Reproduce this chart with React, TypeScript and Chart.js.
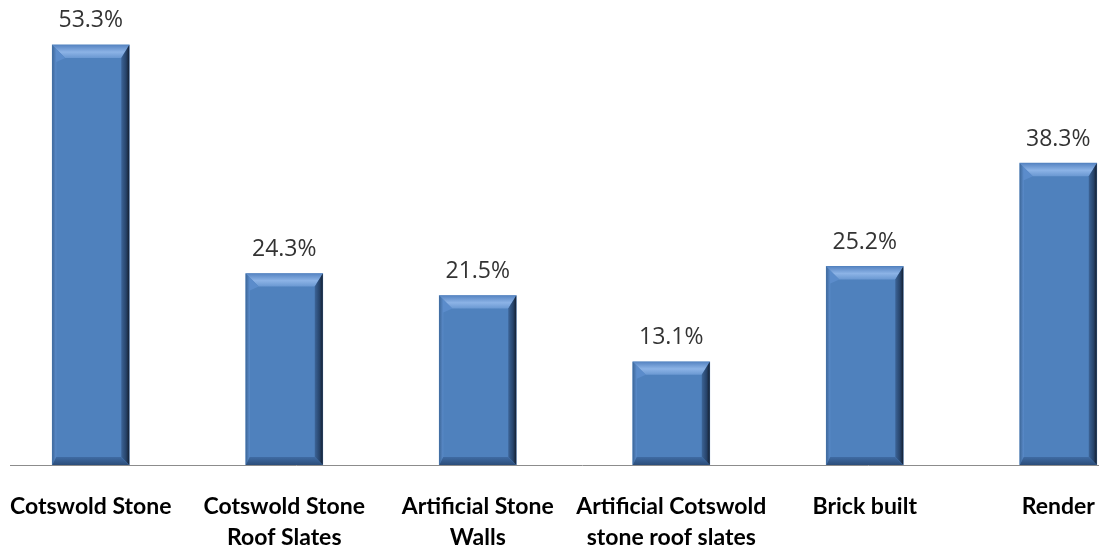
import React, { useEffect, useRef } from "react";
import { Chart, registerables } from "chart.js";

Chart.register(...registerables);

const categories: string[][] = [
  ["Cotswold Stone"],
  ["Cotswold Stone", "Roof Slates"],
  ["Artificial Stone", "Walls"],
  ["Artificial Cotswold", "stone roof slates"],
  ["Brick built"],
  ["Render"],
];
const values: number[] = [53.3, 24.3, 21.5, 13.1, 25.2, 38.3];
const valueLabels: string[] = values.map((v) => v.toFixed(1) + "%");

const bevelPlugin = {
  id: "bevel",
  afterDatasetsDraw(chart: any) {
    const ctx = chart.ctx;
    const meta = chart.getDatasetMeta(0);
    meta.data.forEach((bar: any) => {
      const { x, y, width, base } = bar.getProps(["x", "y", "width", "base"], true);
      const L = x - width / 2;
      const R = x + width / 2;
      const T = y;
      const B = base;
      const bt = 13;
      const br = 8;
      const bl = 4;
      const bb = 8;
      ctx.save();
      // top bevel
      let g = ctx.createLinearGradient(0, T, 0, T + bt);
      g.addColorStop(0, "#5684c2");
      g.addColorStop(0.55, "#8cb3e6");
      g.addColorStop(1, "#6a98d2");
      ctx.fillStyle = g;
      ctx.beginPath();
      ctx.moveTo(L, T);
      ctx.lineTo(R, T);
      ctx.lineTo(R - br, T + bt);
      ctx.lineTo(L + bl + 9, T + bt);
      ctx.closePath();
      ctx.fill();
      // left bevel
      g = ctx.createLinearGradient(L, 0, L + bl, 0);
      g.addColorStop(0, "#3d6799");
      g.addColorStop(1, "#5b8ccb");
      ctx.fillStyle = g;
      ctx.beginPath();
      ctx.moveTo(L, T);
      ctx.lineTo(L + bl + 9, T + bt);
      ctx.lineTo(L + bl, T + bt + 4);
      ctx.lineTo(L + bl, B - bb);
      ctx.lineTo(L, B);
      ctx.closePath();
      ctx.fill();
      // right bevel
      g = ctx.createLinearGradient(R - br, 0, R, 0);
      g.addColorStop(0, "#3c6497");
      g.addColorStop(0.6, "#27446b");
      g.addColorStop(1, "#141f30");
      ctx.fillStyle = g;
      ctx.beginPath();
      ctx.moveTo(R, T);
      ctx.lineTo(R, B);
      ctx.lineTo(R - br, B - bb);
      ctx.lineTo(R - br, T + bt);
      ctx.closePath();
      ctx.fill();
      // bottom bevel
      g = ctx.createLinearGradient(0, B - bb, 0, B);
      g.addColorStop(0, "#3f6ba3");
      g.addColorStop(1, "#2b4d7a");
      ctx.fillStyle = g;
      ctx.beginPath();
      ctx.moveTo(L, B);
      ctx.lineTo(R, B);
      ctx.lineTo(R - br, B - bb);
      ctx.lineTo(L + bl, B - bb);
      ctx.closePath();
      ctx.fill();
      ctx.restore();
    });
  },
};

const labelsPlugin = {
  id: "valueLabels",
  afterDatasetsDraw(chart: any) {
    const ctx = chart.ctx;
    const meta = chart.getDatasetMeta(0);
    ctx.save();
    ctx.font = "23px 'Open Sans'";
    ctx.fillStyle = "#333333";
    ctx.textAlign = "center";
    ctx.textBaseline = "middle";
    meta.data.forEach((bar: any, i: number) => {
      ctx.fillText(valueLabels[i], bar.x, bar.y - 24);
    });
    ctx.restore();
  },
};

const axisLinePlugin = {
  id: "axisLine",
  afterDatasetsDraw(chart: any) {
    const ctx = chart.ctx;
    const y = chart.scales.y.getPixelForValue(0);
    ctx.save();
    ctx.strokeStyle = "#8c8c8c";
    ctx.lineWidth = 1;
    ctx.beginPath();
    ctx.moveTo(chart.chartArea.left + 16, y + 0.5);
    ctx.lineTo(chart.chartArea.right, y + 0.5);
    ctx.stroke();
    ctx.restore();
  },
};

export default function App() {
  const ref = useRef<HTMLCanvasElement>(null);
  useEffect(() => {
    if (!ref.current) return;
    const chart = new Chart(ref.current, {
      type: "bar",
      data: {
        labels: categories,
        datasets: [
          {
            data: values,
            backgroundColor: "#4f81bd",
            borderWidth: 0,
            barThickness: 77,
          },
        ],
      },
      options: {
        responsive: false,
        animation: false,
        layout: { padding: 0 },
        plugins: {
          legend: { display: false },
          tooltip: { enabled: false },
        },
        scales: {
          x: {
            grid: { display: false, drawTicks: false },
            border: { display: false },
            ticks: {
              color: "#000000",
              font: { family: "Lato, 'DejaVu Sans', sans-serif", size: 23, weight: "bold", lineHeight: 1.35 },
              padding: 26,
              maxRotation: 0,
              minRotation: 0,
              autoSkip: false,
            },
            afterFit: (scale: any) => {
              scale.height = 85;
              scale.paddingLeft = 0;
              scale.paddingRight = 0;
            },
          },
          y: {
            display: false,
            min: 0,
            max: 59,
          },
        },
      },
      plugins: [bevelPlugin, axisLinePlugin, labelsPlugin],
    });
    return () => chart.destroy();
  }, []);
  return (
    <div style={{ position: "fixed", left: 0, top: 0, width: 1099, height: 550, overflow: "hidden", background: "#ffffff" }}>
      <canvas ref={ref} width={1161} height={550} style={{ position: "absolute", left: -6, top: 0 }} />
    </div>
  );
}
